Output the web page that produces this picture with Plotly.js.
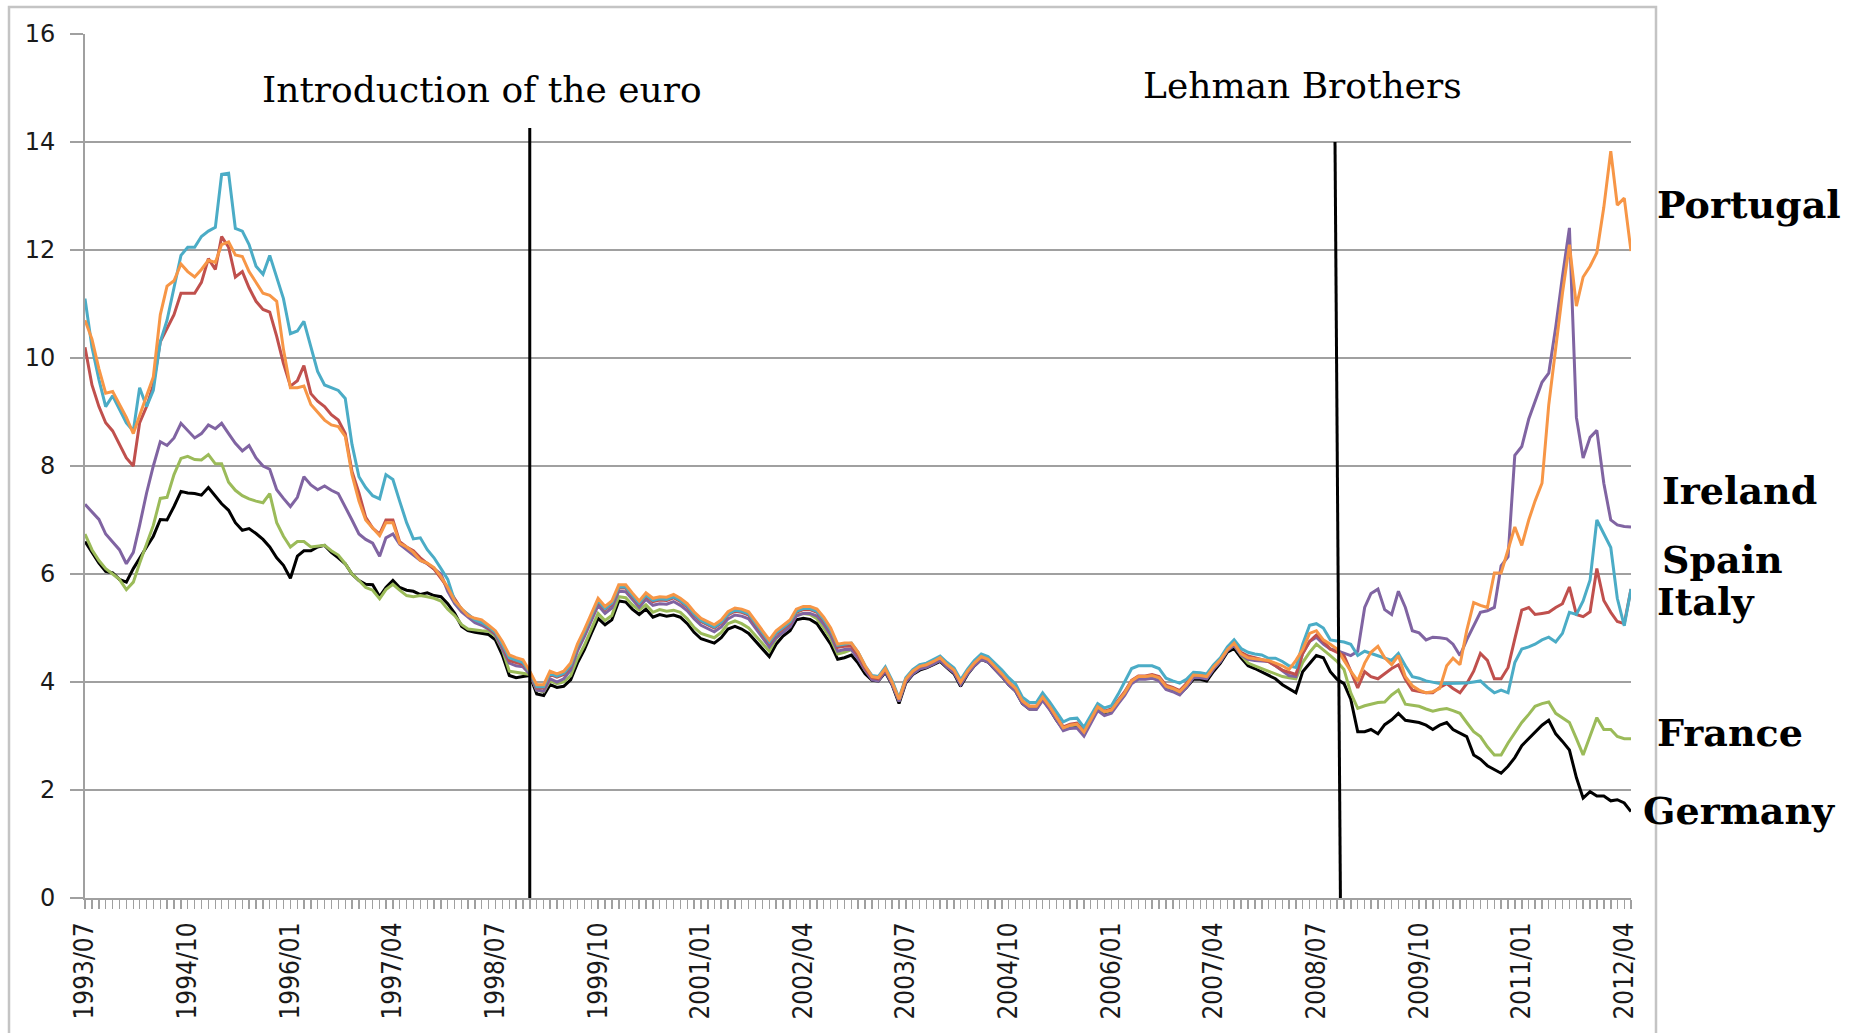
<!DOCTYPE html>
<html>
<head>
<meta charset="utf-8">
<script src="https://cdn.plot.ly/plotly-3.0.1.min.js"></script>
<style>
  html, body { margin: 0; padding: 0; background: #ffffff; }
  #chart { width: 1856px; height: 1033px; }
</style>
</head>
<body>
<div id="chart"></div>
<script>
// 10-year government bond yields (%), monthly, 1993/07 – 2012/05
const startYear = 1993, startMonth = 7;

const germany = [
  6.6, 6.4, 6.2, 6.05, 6.02, 5.9,
  5.85, 6.1, 6.3, 6.5, 6.7, 7.01, 7.0, 7.25, 7.53, 7.5, 7.49, 7.46,
  7.6, 7.45, 7.3, 7.18, 6.95, 6.81, 6.84, 6.75, 6.64, 6.5, 6.3, 6.16,
  5.92, 6.33, 6.43, 6.43, 6.5, 6.53, 6.4, 6.3, 6.19, 6.0, 5.88, 5.81,
  5.8, 5.58, 5.75, 5.88, 5.75, 5.7, 5.68, 5.62, 5.65, 5.6, 5.58, 5.45,
  5.27, 5.03, 4.95, 4.92, 4.9, 4.88, 4.78, 4.5, 4.12, 4.08, 4.1, 4.12,
  3.78, 3.75, 3.95, 3.9, 3.92, 4.04, 4.35, 4.6, 4.9, 5.18, 5.06, 5.15,
  5.5, 5.48, 5.35, 5.25, 5.35, 5.2, 5.25, 5.22, 5.24, 5.2, 5.08, 4.92,
  4.8, 4.76, 4.72, 4.82, 4.98, 5.03, 4.98, 4.9, 4.75, 4.62, 4.47, 4.7,
  4.85, 4.95, 5.15, 5.18, 5.16, 5.08, 4.9, 4.7, 4.42, 4.45, 4.5, 4.35,
  4.15, 4.03, 4.02, 4.18, 3.95, 3.6, 3.98, 4.14, 4.22, 4.26, 4.32, 4.38,
  4.26, 4.15, 3.92, 4.14, 4.3, 4.42, 4.37, 4.24, 4.1, 3.95, 3.83, 3.6,
  3.5, 3.5, 3.68, 3.5, 3.3, 3.12, 3.17, 3.2, 3.05, 3.28, 3.5, 3.42,
  3.46, 3.62, 3.78, 4.0, 4.08, 4.08, 4.1, 4.05, 3.9, 3.85, 3.78, 3.9,
  4.05, 4.05, 4.02, 4.2, 4.35, 4.55, 4.62, 4.45, 4.3, 4.25, 4.19, 4.12,
  4.06, 3.95, 3.88, 3.8, 4.19, 4.35, 4.49, 4.45, 4.19, 4.05, 3.97, 3.68,
  3.08, 3.08, 3.12, 3.04, 3.21, 3.3, 3.42, 3.29, 3.27, 3.25, 3.2, 3.12,
  3.2, 3.25, 3.12, 3.05, 2.99, 2.65, 2.57, 2.45, 2.38, 2.31, 2.44, 2.6,
  2.82, 2.95, 3.08, 3.2, 3.29, 3.04, 2.9, 2.74, 2.23, 1.85, 1.97, 1.89,
  1.89, 1.8, 1.82, 1.76, 1.6
];

const france = [
  6.74, 6.45, 6.25, 6.1, 6.0, 5.9,
  5.71, 5.85, 6.2, 6.55, 6.9, 7.4, 7.42, 7.84, 8.14, 8.18, 8.12, 8.11,
  8.21, 8.04, 8.04, 7.7, 7.55, 7.45, 7.39, 7.35, 7.32, 7.49, 6.95, 6.7,
  6.5, 6.6, 6.6, 6.5, 6.52, 6.53, 6.43, 6.35, 6.19, 6.0, 5.88, 5.75,
  5.7, 5.54, 5.71, 5.81, 5.7, 5.6, 5.58, 5.6, 5.58, 5.55, 5.5, 5.35,
  5.23, 5.06, 4.98, 4.96, 4.95, 4.94, 4.85, 4.6, 4.2, 4.18, 4.16, 4.14,
  3.85, 3.82, 4.02, 3.97, 4.0, 4.12, 4.43, 4.68, 4.98, 5.27, 5.14, 5.23,
  5.58, 5.56, 5.43, 5.33, 5.43, 5.29, 5.34, 5.31, 5.33, 5.29, 5.17, 5.01,
  4.9, 4.86, 4.82, 4.92, 5.08, 5.13, 5.08, 5.0, 4.85, 4.72, 4.57, 4.8,
  4.94, 5.04, 5.24, 5.27, 5.25, 5.17, 5.0, 4.8, 4.52, 4.55, 4.6, 4.45,
  4.22, 4.07, 4.05, 4.22, 3.98, 3.65, 4.02, 4.18, 4.26, 4.3, 4.36, 4.42,
  4.3, 4.2, 3.97, 4.18, 4.33, 4.45, 4.4, 4.27, 4.13, 3.98, 3.86, 3.63,
  3.53, 3.53, 3.7, 3.53, 3.33, 3.14, 3.19, 3.21, 3.07, 3.3, 3.52, 3.44,
  3.47, 3.64, 3.79, 4.01, 4.09, 4.09, 4.11, 4.07, 3.91, 3.87, 3.81, 3.93,
  4.1, 4.09, 4.07, 4.25, 4.39, 4.59, 4.68, 4.5, 4.35, 4.3, 4.25, 4.2,
  4.14, 4.1, 4.08, 4.06, 4.36, 4.55, 4.7, 4.6, 4.49, 4.38, 4.23, 3.8,
  3.51, 3.56, 3.59, 3.62, 3.63, 3.76, 3.85, 3.59, 3.57, 3.55, 3.5, 3.46,
  3.49, 3.51, 3.47, 3.42, 3.25, 3.08, 2.99, 2.8, 2.65, 2.65, 2.87, 3.05,
  3.25, 3.4, 3.55, 3.6, 3.63, 3.42, 3.33, 3.25, 2.95, 2.65, 3.0, 3.34,
  3.12, 3.12, 2.99, 2.95, 2.95
];

const italy = [
  10.2, 9.5, 9.1, 8.8, 8.65, 8.4,
  8.15, 8.0, 8.8, 9.1, 9.5, 10.3, 10.55, 10.8, 11.2, 11.2, 11.2, 11.4,
  11.84, 11.64, 12.25, 12.05, 11.5, 11.6, 11.3, 11.05, 10.9, 10.85, 10.4, 9.9,
  9.48, 9.58, 9.86, 9.34, 9.2, 9.1, 8.95, 8.85, 8.6, 7.9, 7.5, 7.05,
  6.85, 6.74, 7.0, 7.0, 6.6, 6.5, 6.43, 6.3, 6.2, 6.09, 5.92, 5.75,
  5.54, 5.34, 5.25, 5.15, 5.1, 5.0, 4.9, 4.68, 4.4, 4.36, 4.33, 4.18,
  3.89, 3.89, 4.14, 4.09, 4.14, 4.29, 4.64, 4.91, 5.19, 5.49, 5.34, 5.44,
  5.74, 5.74, 5.59, 5.44, 5.59, 5.49, 5.52, 5.51, 5.56, 5.49, 5.39, 5.24,
  5.12, 5.06, 5.0, 5.09, 5.24, 5.31, 5.29, 5.24, 5.06, 4.89, 4.72, 4.89,
  4.99, 5.09, 5.29, 5.34, 5.34, 5.29, 5.14, 4.94, 4.64, 4.66, 4.66, 4.5,
  4.26, 4.08, 4.06, 4.24, 4.0, 3.68, 4.05, 4.2, 4.29, 4.32, 4.38, 4.45,
  4.32, 4.22, 4.0, 4.2, 4.35, 4.47, 4.42, 4.29, 4.15, 4.0, 3.88, 3.65,
  3.55, 3.55, 3.72, 3.55, 3.36, 3.17, 3.22, 3.24, 3.1, 3.32, 3.55, 3.46,
  3.5, 3.67, 3.82, 4.03, 4.11, 4.11, 4.14, 4.1, 3.94, 3.9, 3.84, 3.97,
  4.15, 4.15, 4.13, 4.3, 4.43, 4.62, 4.74, 4.55, 4.48, 4.45, 4.42, 4.38,
  4.3, 4.22, 4.18, 4.14, 4.53, 4.75, 4.87, 4.75, 4.61, 4.55, 4.49, 4.2,
  3.89, 4.19, 4.1, 4.06, 4.15, 4.25, 4.32, 4.05, 3.85, 3.82, 3.8, 3.8,
  3.9, 3.97, 3.88, 3.8, 3.97, 4.2, 4.53, 4.4, 4.06, 4.06, 4.27, 4.8,
  5.33, 5.38, 5.25, 5.27, 5.29, 5.38, 5.45, 5.76, 5.25, 5.21, 5.3, 6.1,
  5.51, 5.29, 5.12, 5.08, 5.72
];

const spain = [
  11.1, 10.2, 9.6, 9.1, 9.3, 9.05,
  8.8, 8.65, 9.45, 9.1, 9.4, 10.3, 10.7, 11.3, 11.9, 12.05, 12.05, 12.25,
  12.35, 12.42, 13.4, 13.42, 12.4, 12.35, 12.1, 11.7, 11.55, 11.9, 11.5, 11.1,
  10.45, 10.5, 10.68, 10.2, 9.75, 9.5, 9.45, 9.4, 9.25, 8.4, 7.8, 7.6,
  7.45, 7.39, 7.84, 7.75, 7.35, 6.95, 6.65, 6.67, 6.45, 6.3, 6.1, 5.9,
  5.5, 5.35, 5.25, 5.15, 5.1, 5.02, 4.92, 4.7, 4.45, 4.4, 4.36, 4.18,
  3.91, 3.91, 4.16, 4.11, 4.16, 4.31, 4.66, 4.93, 5.21, 5.51, 5.36, 5.46,
  5.76, 5.76, 5.61, 5.46, 5.61, 5.51, 5.54, 5.53, 5.58, 5.51, 5.41, 5.26,
  5.14, 5.08, 5.02, 5.11, 5.26, 5.33, 5.31, 5.26, 5.08, 4.91, 4.74, 4.91,
  5.01, 5.11, 5.31, 5.36, 5.36, 5.31, 5.16, 4.96, 4.68, 4.7, 4.72, 4.55,
  4.3, 4.12, 4.1, 4.28, 4.03, 3.7, 4.08, 4.23, 4.32, 4.35, 4.42, 4.48,
  4.36, 4.26, 4.04, 4.24, 4.4, 4.52, 4.47, 4.35, 4.22, 4.08, 3.96, 3.72,
  3.62, 3.62, 3.8, 3.63, 3.44, 3.26, 3.32, 3.33, 3.16, 3.37, 3.6, 3.52,
  3.56, 3.78, 4.0, 4.25, 4.3, 4.3, 4.3, 4.25, 4.07, 4.02, 3.98, 4.05,
  4.18, 4.17, 4.15, 4.32, 4.45, 4.65, 4.78, 4.62, 4.55, 4.52, 4.5, 4.44,
  4.44, 4.38, 4.3, 4.27, 4.7, 5.05, 5.08, 5.0, 4.78, 4.76, 4.74, 4.7,
  4.49, 4.57, 4.53, 4.49, 4.45, 4.4, 4.53, 4.3, 4.1, 4.07, 4.02, 3.99,
  3.97, 3.97, 3.97, 3.97, 3.98, 4.0, 4.02, 3.9, 3.8, 3.85, 3.8, 4.36,
  4.61, 4.65, 4.7, 4.78, 4.83, 4.74, 4.9, 5.29, 5.25, 5.5, 5.89, 7.0,
  6.74, 6.49, 5.55, 5.04, 5.72
];

const ireland = [
  7.29, 7.15, 7.01, 6.74, 6.6, 6.45,
  6.19, 6.4, 6.9, 7.5, 8.0, 8.45, 8.38, 8.52, 8.79, 8.65, 8.52, 8.6,
  8.76, 8.69, 8.79, 8.6, 8.42, 8.28, 8.38, 8.15, 8.0, 7.94, 7.56, 7.4,
  7.25, 7.42, 7.8, 7.65, 7.56, 7.63, 7.55, 7.49, 7.25, 7.0, 6.74, 6.64,
  6.57, 6.33, 6.67, 6.74, 6.55, 6.45, 6.36, 6.25, 6.19, 6.1, 6.0, 5.68,
  5.45, 5.3, 5.2, 5.1, 5.05, 4.98, 4.88, 4.62, 4.35, 4.3, 4.28, 4.15,
  3.85, 3.83, 4.06, 4.0, 4.06, 4.22, 4.57, 4.84, 5.12, 5.42, 5.27, 5.37,
  5.68, 5.67, 5.53, 5.38, 5.53, 5.42, 5.45, 5.44, 5.49, 5.42, 5.32, 5.17,
  5.05, 4.99, 4.93, 5.02, 5.17, 5.24, 5.22, 5.17, 4.99, 4.82, 4.65, 4.82,
  4.92, 5.02, 5.22, 5.27, 5.27, 5.22, 5.07, 4.87, 4.57, 4.6, 4.6, 4.43,
  4.22, 4.04, 4.02, 4.2, 3.96, 3.64, 4.0, 4.15, 4.24, 4.27, 4.33, 4.4,
  4.27, 4.17, 3.95, 4.15, 4.3, 4.42, 4.37, 4.24, 4.1, 3.95, 3.83, 3.6,
  3.5, 3.49, 3.66, 3.49, 3.29, 3.1, 3.14, 3.15, 3.0, 3.24, 3.47, 3.38,
  3.42, 3.6, 3.75, 3.97, 4.05, 4.05, 4.07, 4.02, 3.86, 3.82, 3.76, 3.9,
  4.08, 4.08, 4.06, 4.24, 4.38, 4.58, 4.68, 4.5, 4.42, 4.4, 4.39, 4.38,
  4.3, 4.2, 4.12, 4.1, 4.53, 4.75, 4.83, 4.7, 4.61, 4.58, 4.53, 4.49,
  4.57, 5.38, 5.64, 5.72, 5.34, 5.25, 5.68, 5.38, 4.95, 4.91, 4.78, 4.83,
  4.82, 4.8, 4.7, 4.49, 4.78, 5.04, 5.29, 5.32, 5.38, 6.15, 6.32, 8.2,
  8.36, 8.87, 9.2, 9.55, 9.72, 10.57, 11.51, 12.41, 8.9, 8.15, 8.53, 8.66,
  7.68, 7.0, 6.91, 6.88, 6.87
];

const portugal = [
  10.7, 10.35, 9.8, 9.35, 9.38, 9.15,
  8.9, 8.6, 8.95, 9.3, 9.65, 10.8, 11.33, 11.43, 11.74, 11.6, 11.5, 11.64,
  11.81, 11.77, 12.1, 12.15, 11.91, 11.88, 11.6, 11.4, 11.2, 11.16, 11.05, 10.16,
  9.45, 9.45, 9.48, 9.14, 9.0, 8.85, 8.76, 8.73, 8.55, 7.84, 7.35, 7.0,
  6.85, 6.71, 6.95, 6.95, 6.57, 6.5, 6.4, 6.25, 6.2, 6.12, 5.95, 5.75,
  5.5, 5.35, 5.23, 5.18, 5.15, 5.05, 4.95, 4.75, 4.5, 4.45, 4.41, 4.2,
  3.95, 3.95, 4.2, 4.15, 4.2, 4.35, 4.7, 4.97, 5.25, 5.55, 5.4, 5.5,
  5.8, 5.8, 5.65, 5.5, 5.65, 5.55, 5.58, 5.57, 5.62, 5.55, 5.45, 5.3,
  5.18, 5.12, 5.06, 5.15, 5.3, 5.37, 5.35, 5.3, 5.12, 4.95, 4.78, 4.95,
  5.05, 5.15, 5.35, 5.4, 5.4, 5.35, 5.2, 5.0, 4.7, 4.72, 4.72, 4.55,
  4.3, 4.1, 4.08, 4.25, 4.0, 3.68, 4.05, 4.2, 4.29, 4.32, 4.38, 4.45,
  4.32, 4.22, 4.0, 4.2, 4.35, 4.47, 4.42, 4.29, 4.15, 4.0, 3.88, 3.65,
  3.55, 3.55, 3.72, 3.55, 3.35, 3.15, 3.2, 3.22, 3.07, 3.3, 3.54, 3.45,
  3.48, 3.65, 3.8, 4.02, 4.1, 4.1, 4.12, 4.08, 3.92, 3.88, 3.82, 3.95,
  4.13, 4.12, 4.1, 4.28, 4.41, 4.6, 4.72, 4.52, 4.45, 4.43, 4.42, 4.4,
  4.35, 4.3, 4.23, 4.4, 4.6, 4.9, 4.95, 4.78, 4.7, 4.61, 4.4, 4.2,
  4.02, 4.35, 4.55, 4.66, 4.45, 4.32, 4.49, 4.1, 3.93, 3.85, 3.8, 3.82,
  3.88, 4.3, 4.44, 4.32, 4.95, 5.47, 5.42, 5.38, 6.02, 6.02, 6.45, 6.87,
  6.53, 7.0, 7.35, 7.68, 9.13, 10.2, 11.2, 12.1, 10.96, 11.5, 11.7, 11.95,
  12.79, 13.83, 12.83, 12.96, 11.98
];

const tickLabels = ['1993/07','1994/10','1996/01','1997/04','1998/07','1999/10','2001/01',
  '2002/04','2003/07','2004/10','2006/01','2007/04','2008/07','2009/10','2011/01','2012/04'];

const seriesNames = ['Germany', 'France', 'Ireland', 'Italy', 'Spain', 'Portugal'];
const seriesColors = ['#000000', '#9BBB59', '#8064A2', '#C0504D', '#4BACC6', '#F79646'];
const seriesValues = [germany, france, ireland, italy, spain, portugal];

// month axis (one entry per observation)
const months = [];
for (let i = 0; i < germany.length; i++) {
  const k = startMonth - 1 + i;
  const y = startYear + Math.floor(k / 12);
  const m = (k % 12) + 1;
  months.push(y + '-' + String(m).padStart(2, '0') + '-01');
}
const tickVals = tickLabels.map(s => s.replace('/', '-') + '-01');

const traces = seriesValues.map((vals, i) => ({
  type: 'scatter', mode: 'lines', name: seriesNames[i],
  x: months, y: vals,
  line: { color: seriesColors[i], width: 3 },
  hoverinfo: 'x+y+name'
}));

// pixel -> paper helpers for decoration placement
const L = 85, R = 1631, T = 34, B = 898;
const px = v => (v - L) / (R - L);
const py = v => (B - v) / (B - T);

const labelFont = { family: 'DejaVu Serif, serif', size: 38, color: '#000' };
const noteFont = { family: 'DejaVu Serif, serif', size: 36, color: '#000' };

const endLabels = [
  { text: 'Portugal', x: 1655, y: 204 },
  { text: 'Ireland',  x: 1660, y: 491 },
  { text: 'Spain',    x: 1660, y: 559 },
  { text: 'Italy',    x: 1655, y: 601 },
  { text: 'France',   x: 1655, y: 732 },
  { text: 'Germany',  x: 1641, y: 810 }
];

const annotations = endLabels.map(a => ({
  xref: 'paper', yref: 'paper', x: px(a.x), y: py(a.y),
  xanchor: 'left', yanchor: 'middle', showarrow: false,
  text: '<b>' + a.text + '</b>', font: labelFont
})).concat([
  { xref: 'paper', yref: 'paper', x: px(482), y: py(90), xanchor: 'center', yanchor: 'middle',
    showarrow: false, text: 'Introduction of the euro', font: noteFont },
  { xref: 'paper', yref: 'paper', x: px(1302), y: py(85), xanchor: 'center', yanchor: 'middle',
    showarrow: false, text: 'Lehman Brothers', font: noteFont }
]);

const shapes = [
  { type: 'rect', xref: 'paper', yref: 'paper', x0: px(9), x1: px(1656), y0: py(1060), y1: py(7),
    line: { color: '#C4C4C4', width: 2.5 }, fillcolor: 'rgba(0,0,0,0)', layer: 'above' },
  { type: 'line', xref: 'x', yref: 'y', x0: '1998-12-01', x1: '1998-12-01', y0: 0, y1: 14.26,
    line: { color: '#000', width: 3 } },
  { type: 'line', xref: 'x', yref: 'y', x0: '2008-10-16', x1: '2008-09-22', y0: 0, y1: 14.0,
    line: { color: '#000', width: 3 } }
];

const axisGray = '#A0A0A0';
const xTickFont = { family: 'DejaVu Sans Condensed, DejaVu Sans, sans-serif', size: 26, color: '#1a1a1a' };
const yTickFont = { family: 'DejaVu Sans, Verdana, sans-serif', size: 24, color: '#1a1a1a' };

const layout = {
  width: 1856, height: 1033,
  margin: { l: L, r: 1856 - R, t: T, b: 1033 - B, pad: 0 },
  paper_bgcolor: '#ffffff', plot_bgcolor: '#ffffff',
  showlegend: false,
  xaxis: {
    type: 'date',
    range: [months[0], months[months.length - 1]],
    tickmode: 'array', tickvals: tickVals, ticktext: tickLabels,
    tickangle: -90, tickfont: xTickFont,
    ticks: 'outside', ticklen: 9, tickwidth: 1.5, tickcolor: axisGray,
    minor: { ticks: 'outside', ticklen: 9, tickwidth: 1.5, tickcolor: axisGray,
             dtick: 'M1', tick0: months[0], showgrid: false },
    ticklabelstandoff: 3,
    showgrid: false, zeroline: false,
    showline: true, linecolor: axisGray, linewidth: 2,
    fixedrange: true
  },
  yaxis: {
    range: [0, 16], dtick: 2, tick0: 0,
    tickfont: yTickFont,
    ticks: 'outside', ticklen: 13, tickwidth: 2, tickcolor: axisGray,
    ticklabelstandoff: 10,
    showgrid: true, gridcolor: axisGray, gridwidth: 2,
    zeroline: false,
    showline: true, linecolor: axisGray, linewidth: 2,
    fixedrange: true
  },
  annotations: annotations,
  shapes: shapes
};

Plotly.newPlot('chart', traces, layout, { displayModeBar: false, staticPlot: true });
</script>
</body>
</html>
